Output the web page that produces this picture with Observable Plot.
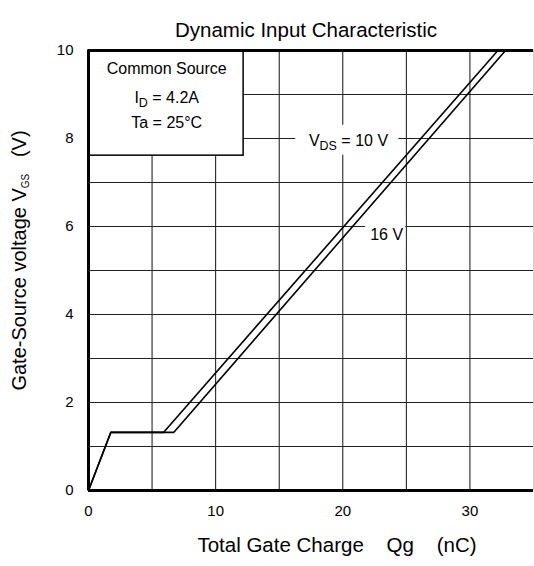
<!DOCTYPE html>
<html>
<head>
<meta charset="utf-8">
<script src="https://cdn.jsdelivr.net/npm/d3@7"></script>
<script src="https://cdn.jsdelivr.net/npm/@observablehq/plot@0.6"></script>
<style>
  html, body { margin: 0; padding: 0; background: #fff; }
  svg text { white-space: pre; }
</style>
</head>
<body>
<div id="chart"></div>
<script>
// ---- data ----
const qg10 = [0, 1.75, 5.9, 32.2];       // Qg (nC), VDS = 10 V
const vgs10 = [0, 1.32, 1.32, 10];       // VGS (V)
const qg16 = [0, 1.75, 6.7, 32.8];       // Qg (nC), VDS = 16 V
const vgs16 = [0, 1.32, 1.32, 10];       // VGS (V)
const xTicks = [0, 10, 20, 30];
const yTicks = [0, 2, 4, 6, 8, 10];
const xGrid = [5, 10, 15, 20, 25, 30];
const yGrid = [1, 2, 3, 4, 5, 6, 7, 8, 9];
const titleText = "Dynamic Input Characteristic";
const xLabelText = "Total Gate Charge    Qg    (nC)";
const yLabelText = "Gate-Source voltage V_{GS}   (V)";
const legendLines = ["Common Source", "I_{D} = 4.2A", "Ta = 25°C"];
const seriesLabels = ["V_{DS} = 10 V", "16 V"];

// ---- annotation layout (data units) ----
const legendBox = [{x1: 0, x2: 12.2, y1: 7.61, y2: 10}];
const legendText = legendLines.map((t, i) => ({t, x: 6.15, y: [9.59, 8.93, 8.36][i]}));
const labelBoxes = [
  {x1: 16.3, x2: 24.4, y1: 7.62, y2: 8.3},
  {x1: 21.8, x2: 24.95, y1: 5.45, y2: 6.28}
];
const labelText = [
  {t: seriesLabels[0], x: 20.45, y: 7.95},
  {t: seriesLabels[1], x: 23.45, y: 5.80}
];

const d10 = qg10.map((q, i) => ({q, v: vgs10[i]}));
const d16 = qg16.map((q, i) => ({q, v: vgs16[i]}));

const font = "'Liberation Sans', Arial, Helvetica, sans-serif";

const chart = Plot.plot({
  width: 534,
  height: 566,
  marginTop: 50,
  marginBottom: 76,
  marginLeft: 88,
  marginRight: 1,
  style: {fontFamily: font, background: "#fff", color: "#000"},
  x: {domain: [0, 35]},
  y: {domain: [0, 10]},
  marks: [
    Plot.ruleX(xGrid, {stroke: "#111", strokeWidth: 1}),
    Plot.ruleY(yGrid, {stroke: "#222", strokeWidth: 1}),
    Plot.ruleX([35], {stroke: "#ccc", strokeWidth: 1}),
    Plot.rect(labelBoxes, {x1: "x1", x2: "x2", y1: "y1", y2: "y2", fill: "white"}),
    Plot.rect(legendBox, {x1: "x1", x2: "x2", y1: "y1", y2: "y2", fill: "white", stroke: "black", strokeWidth: 1.5}),
    Plot.line(d10, {x: "q", y: "v", stroke: "black", strokeWidth: 1.6}),
    Plot.line(d16, {x: "q", y: "v", stroke: "black", strokeWidth: 1.6}),
    Plot.ruleX([0], {stroke: "black", strokeWidth: 3}),
    Plot.ruleY([0, 10], {stroke: "black", strokeWidth: 3}),
    Plot.axisX({ticks: xTicks, tickSize: 0, tickPadding: 15, fontSize: 15, label: null}),
    Plot.axisY({ticks: yTicks, tickSize: 0, tickPadding: 15, fontSize: 15, label: null}),
    Plot.text(legendText, {x: "x", y: "y", text: "t", fontSize: 16}),
    Plot.text(labelText, {x: "x", y: "y", text: "t", fontSize: 16}),
    Plot.text([titleText], {frameAnchor: "top", dy: -28, dx: -5, fontSize: 20.5}),
    Plot.text([xLabelText], {frameAnchor: "bottom", dy: 61, dx: 26, fontSize: 20.5}),
    Plot.text([yLabelText], {frameAnchor: "left", textAnchor: "middle", dx: -69, dy: -10, rotate: -90, fontSize: 20})
  ]
});

// subscripts: rebuild texts containing _{...} with tspans
d3.select(chart).selectAll("text").each(function () {
  const t = this.textContent;
  if (!t.includes("_{")) return;
  const small = t.startsWith("Gate-Source");
  const parts = t.split(/(_\{[^}]*\})/).filter(p => p.length);
  const el = d3.select(this);
  el.text(null);
  let shifted = false;
  for (const p of parts) {
    if (p.startsWith("_{")) {
      el.append("tspan").attr("dy", small ? 3 : 4).attr("font-size", small ? "0.5em" : "0.78em").text(p.slice(2, -1));
      shifted = true;
    } else {
      const ts = el.append("tspan").text(p);
      if (shifted) { ts.attr("dy", small ? -3 : -4); shifted = false; }
    }
  }
});

document.getElementById("chart").appendChild(chart);
</script>
</body>
</html>
